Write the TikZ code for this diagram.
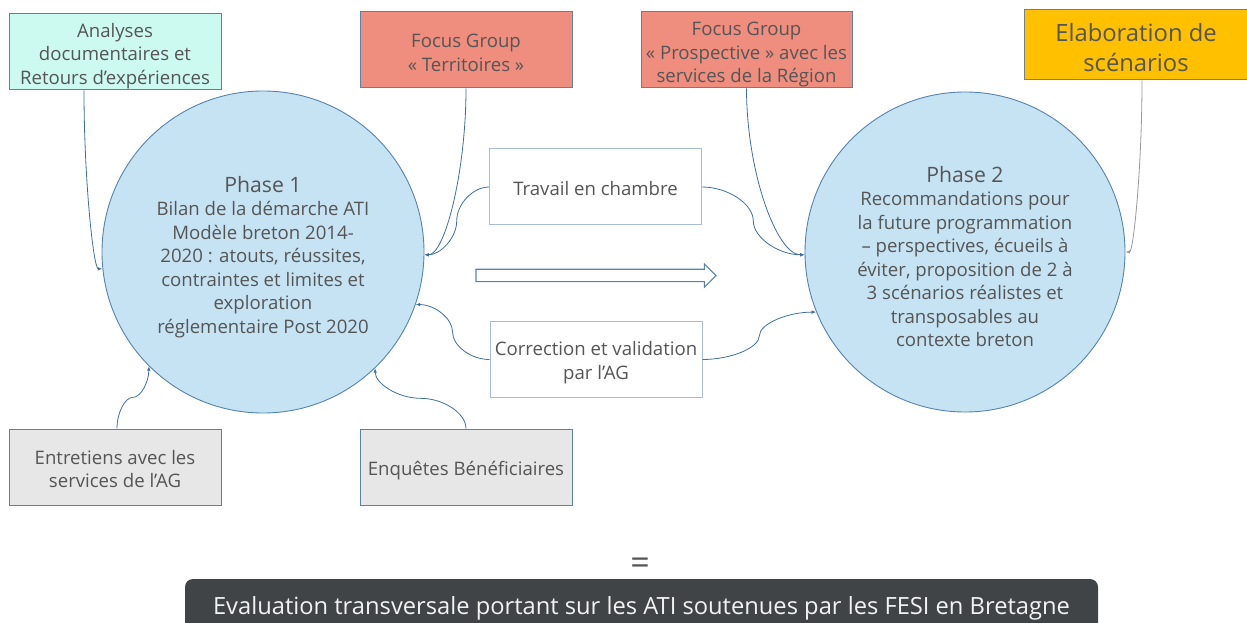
\documentclass[tikz,border=0pt]{standalone}
\usepackage{fontspec}
\setmainfont{Open Sans}
\usetikzlibrary{arrows.meta,calc}

\definecolor{txtgray}{HTML}{555555}
\definecolor{boxline}{HTML}{5A82AA}
\definecolor{softline}{HTML}{A5BED6}
\definecolor{connblue}{HTML}{3E6F9E}
\definecolor{aquafill}{HTML}{CCFAF0}
\definecolor{salmonfill}{HTML}{EF8E7E}
\definecolor{amberfill}{HTML}{FFC000}
\definecolor{greyfill}{HTML}{E7E7E7}
\definecolor{phasefill}{HTML}{C6E3F4}
\definecolor{phaseline}{HTML}{5683AE}
\definecolor{barfill}{HTML}{404447}

\tikzset{
  bodyfont/.style={font=\fontsize{18.6}{23.5}\selectfont},
  infobox/.style={draw=boxline, line width=1pt, minimum width=212pt,
    minimum height=76pt, inner sep=0pt, align=center, text=txtgray, bodyfont},
  workbox/.style={infobox, draw=softline, fill=white},
  phasecircle/.style={circle, draw=phaseline, line width=0.9pt, fill=phasefill,
    inner sep=0pt, align=center, text=txtgray, bodyfont},
  link/.style={draw=connblue, line width=0.8pt,
    -{Latex[length=4.5pt,width=3.5pt]}},
  greylink/.style={link, draw=gray!80, -{Latex[length=4.5pt,width=3.5pt,fill=gray!90!black]}},
}
% taller first line, so that a text block sits a little lower in its shape
\newcommand{\lift}[1]{\rule{0pt}{#1}}
\newcommand{\headline}[1]{{\fontsize{21.2}{25}\selectfont #1}}

\begin{document}
\begin{tikzpicture}[x=1pt,y=1pt]
\useasboundingbox (0,0) rectangle (1247,622);

% sources around the two phases
\node[infobox, fill=aquafill] (ana) at (115,570)
  {\lift{22pt}Analyses\\documentaires et\\Retours d’expériences};
\node[infobox, fill=salmonfill] (fgt) at (466,572)
  {\lift{19.5pt}Focus Group\\«~Territoires~»};
\node[infobox, fill=salmonfill, minimum width=211pt] (fgp) at (746.5,572)
  {\lift{22.5pt}Focus Group\\«~Prospective~» avec les\\services de la Région};
\node[infobox, draw=gray!60!boxline, fill=amberfill, minimum width=224pt,
  minimum height=70pt, font=\fontsize{23.8}{30}\selectfont] (ela) at (1136,577)
  {\lift{23pt}Elaboration de\\scénarios};
\node[infobox, fill=greyfill, font=\fontsize{18.6}{23}\selectfont] (ent) at (115,155)
  {\lift{18pt}Entretiens avec les\\services de l’AG};
\node[infobox, fill=greyfill] (enq) at (466,155) {\lift{21pt}Enquêtes Bénéficiaires};

% intermediate work
\node[workbox] (trav) at (595.5,435) {\lift{17.5pt}Travail en chambre};
\node[workbox, font=\fontsize{18.6}{24}\selectfont] (corr) at (596,262.5)
  {\lift{20.5pt}Correction et validation\\par l’AG};

% the two phases
\node[phasecircle, minimum size=322pt] (ph1) at (263,370)
  {\lift{26pt}\headline{Phase 1}\\Bilan de la démarche ATI\\Modèle breton 2014-\\2020 : atouts, réussites,\\contraintes et limites et\\exploration\\réglementaire Post 2020};
\node[phasecircle, minimum size=320pt] (ph2) at (965,370)
  {\lift{25pt}\headline{Phase 2}\\Recommandations pour\\la future programmation\\– perspectives, écueils à\\éviter, proposition de 2 à\\3 scénarios réalistes et\\transposables au\\contexte breton};

% block arrow between the phases
\draw[draw=phaseline, line width=1.1pt, fill=white, line join=miter]
  (476,340.3) -- (476,352.7) -- (704.3,352.7) -- (704.3,358) -- (716,346.3)
  -- (704.3,334.7) -- (704.3,340.3) -- cycle;

% connectors into phase 1
\draw[link] ($(ana.south)+(-31,0)$) .. controls +(0,-89) and +(-9,0) .. (ph1.186);
\draw[link] (fgt.south) .. controls +(0,-83) and +(20.5,0) .. (ph1.-1);
\draw[link] (trav.west) .. controls +(-16,0) and +(0,17) ..
  ($(trav.west)!.5!(ph1.-1)$) .. controls +(0,-17) and +(16,0) .. (ph1.-1);
\draw[link] (corr.west) .. controls +(-18.75,0) and +(0,-13.75) ..
  ($(corr.west)!.5!(ph1.-19)$) .. controls +(0,13.75) and +(18.75,0) .. (ph1.-19);
\draw[link] ($(ent.north)+(2,0)$) .. controls +(0,15.8) and +(-8,0) ..
  ($($(ent.north)+(2,0)$)!.5!(ph1.-135)$) .. controls +(8,0) and +(0,-15.8) .. (ph1.-135);
\draw[link] (enq.north) .. controls +(0,15.3) and +(22.8,0) ..
  ($(enq.north)!.5!(ph1.-46)$) .. controls +(-22.8,0) and +(0,-15.3) .. (ph1.-46);

% connectors into phase 2
\draw[link] (fgp.south) .. controls +(0,-83) and +(-28,0) .. (ph2.181);
\draw[link] (trav.east) .. controls +(25.75,0) and +(0,17) ..
  ($(trav.east)!.5!(ph2.181)$) .. controls +(0,-17) and +(-25.75,0) .. (ph2.181);
\draw[link] (corr.east) .. controls +(28.7,0) and +(0,-11.9) ..
  ($(corr.east)!.5!(ph2.202)$) .. controls +(0,11.9) and +(-28.7,0) .. (ph2.202);
\draw[greylink] ($(ela.south)+(6,0)$) .. controls +(0,-86.5) and +(8,0) .. (ph2.0);

% summary line
\node[text=txtgray, font=\fontsize{34}{34}\selectfont] (eq) at (640,56) {=};
\path[fill=barfill, rounded corners=8pt] (185,-20) rectangle (1098,43);
\node[text=white!95!black, font=\fontsize{23.7}{26}\selectfont] (evl) at (641.5,14)
  {Evaluation transversale portant sur les ATI soutenues par les FESI en Bretagne};
\end{tikzpicture}
\end{document}
